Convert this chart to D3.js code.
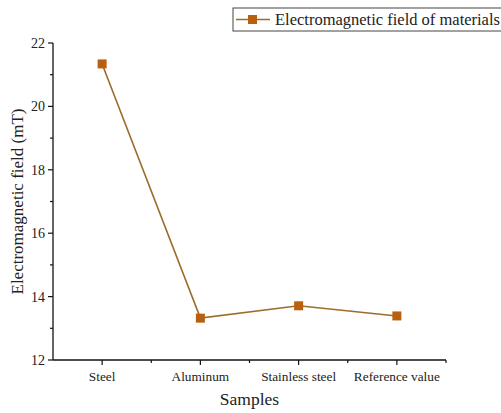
<!DOCTYPE html>
<html>
<head>
<meta charset="utf-8">
<script src="https://cdn.jsdelivr.net/npm/d3@7"></script>
<style>
    html, body { margin: 0; padding: 0; background: #fff; }
    text { font-family: "Liberation Serif", "Times New Roman", serif; fill: #222; }
</style>
</head>
<body>
<svg id="chart" width="501" height="413"></svg>
<script>
// values
const samples = ["Steel", "Aluminum", "Stainless steel", "Reference value"];
const fieldValues = [21.34, 13.32, 13.71, 13.39];
const yTicks = [12, 14, 16, 18, 20, 22];
const seriesName = "Electromagnetic field of materials";

(function drawChart() {
    const svg = d3.select("#chart");
    const left = 53, right = 446, top = 43, bottom = 360;
    const lineColor = "#9c6c2c";
    const markerColor = "#b8600e";

    const x = d3.scalePoint().domain(samples).range([left, right]).padding(0.5);
    const y = d3.scaleLinear().domain([12, 22]).range([bottom, top]);
    const step = x.step();

    // y axis with minor ticks
    const yAxis = svg.append("g").attr("transform", `translate(${left},0)`);
    yAxis.append("line").attr("y1", top).attr("y2", bottom).attr("stroke", "#111").attr("stroke-width", 1.3);
    yAxis.selectAll("line.major").data(yTicks).join("line")
        .attr("class", "major").attr("x1", -5).attr("x2", 0)
        .attr("y1", d => y(d)).attr("y2", d => y(d)).attr("stroke", "#111").attr("stroke-width", 1.2);
    yAxis.selectAll("line.minor").data(yTicks.slice(1).map(d => d - 1)).join("line")
        .attr("class", "minor").attr("x1", -3).attr("x2", 0)
        .attr("y1", d => y(d)).attr("y2", d => y(d)).attr("stroke", "#111").attr("stroke-width", 1.2);
    yAxis.selectAll("text").data(yTicks).join("text")
        .attr("x", -8).attr("y", d => y(d)).attr("dy", "0.35em")
        .attr("text-anchor", "end").attr("font-size", 14).text(d => d);

    // x axis: major ticks at categories, minor ticks between them
    const xAxis = svg.append("g").attr("transform", `translate(0,${bottom})`);
    xAxis.append("line").attr("x1", left).attr("x2", right).attr("stroke", "#111").attr("stroke-width", 1.3);
    xAxis.selectAll("line.major").data(samples).join("line")
        .attr("class", "major").attr("x1", d => x(d)).attr("x2", d => x(d))
        .attr("y1", 0).attr("y2", 5).attr("stroke", "#111").attr("stroke-width", 1.2);
    xAxis.selectAll("line.minor").data(samples).join("line")
        .attr("class", "minor").attr("x1", d => x(d) + step / 2).attr("x2", d => x(d) + step / 2)
        .attr("y1", 0).attr("y2", 3).attr("stroke", "#111").attr("stroke-width", 1.2);
    xAxis.selectAll("text").data(samples).join("text")
        .attr("x", d => x(d)).attr("y", 21)
        .attr("text-anchor", "middle").attr("font-size", 13.3).text(d => d);

    // axis titles
    svg.append("text")
        .attr("x", (left + right) / 2).attr("y", 405)
        .attr("text-anchor", "middle").attr("font-size", 17.5).text("Samples");
    svg.append("text")
        .attr("transform", `translate(23,${(top + bottom) / 2}) rotate(-90)`)
        .attr("text-anchor", "middle").attr("font-size", 17).text("Electromagnetic field (mT)");

    // series
    const points = samples.map((s, i) => [x(s), y(fieldValues[i])]);
    svg.append("path")
        .attr("d", d3.line()(points))
        .attr("fill", "none").attr("stroke", lineColor).attr("stroke-width", 1.6);
    svg.selectAll("rect.marker").data(points).join("rect")
        .attr("class", "marker")
        .attr("x", d => d[0] - 4.5).attr("y", d => d[1] - 4.5)
        .attr("width", 9).attr("height", 9).attr("fill", markerColor);

    // legend
    const legend = svg.append("g").attr("transform", "translate(233,8)");
    legend.append("rect").attr("width", 280).attr("height", 23)
        .attr("fill", "#fff").attr("stroke", "#444").attr("stroke-width", 1);
    legend.append("line").attr("x1", 3).attr("x2", 37).attr("y1", 11.5).attr("y2", 11.5)
        .attr("stroke", lineColor).attr("stroke-width", 1.6);
    legend.append("rect").attr("x", 15).attr("y", 7).attr("width", 9).attr("height", 9).attr("fill", markerColor);
    legend.append("text").attr("x", 42).attr("y", 11.5).attr("dy", "0.35em")
        .attr("font-size", 16.5).text(seriesName);
})();
</script>
</body>
</html>
